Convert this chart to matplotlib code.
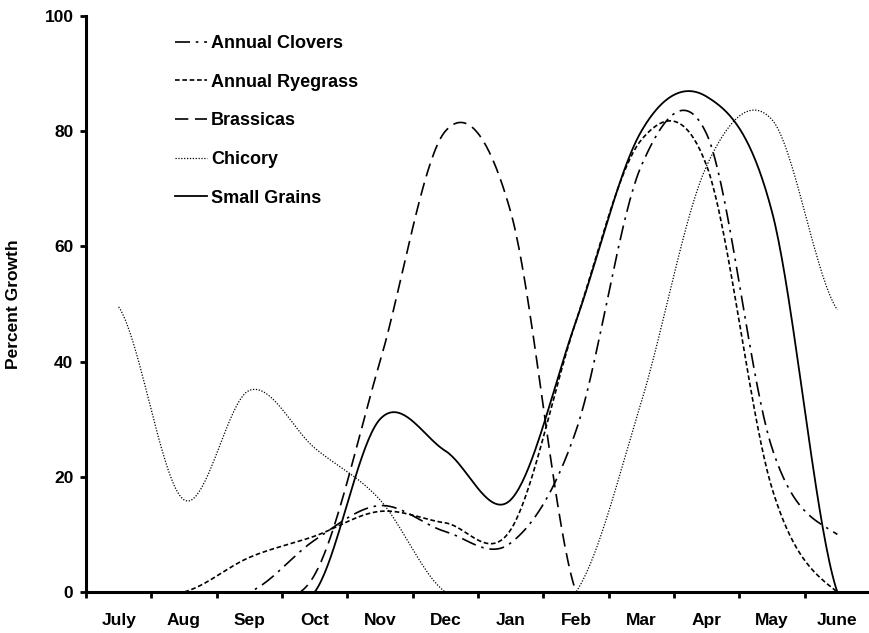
import matplotlib

matplotlib.use("Agg")

import matplotlib.pyplot as plt
import numpy as np

plt.rcParams["font.family"] = ["Liberation Sans", "DejaVu Sans"]
plt.rcParams["font.weight"] = "bold"

months = ["July", "Aug", "Sep", "Oct", "Nov", "Dec", "Jan", "Feb", "Mar", "Apr", "May", "June"]

annual_clovers = [0, 0, 0, 9, 15, 10.5, 8.5, 28, 74, 79.5, 25, 10]
annual_ryegrass = [0, 0, 6, 9.7, 14, 12, 10.8, 47, 78.5, 74, 18, 0]
brassicas = [0, 0, 0, 3, 40, 80, 66, 0, 0, 0, 0, 0]
chicory = [49.5, 16, 35, 25, 16, 0, 0, 0, 33, 74, 82, 49]
small_grains = [0, 0, 0, 0, 30, 24.5, 16, 47, 80, 86, 66, 0]

series = [
    ("Annual Clovers", annual_clovers, (0, (9, 3.5, 1.5, 3.5)), 1.2),
    ("Annual Ryegrass", annual_ryegrass, (0, (2.8, 1.6)), 1.2),
    ("Brassicas", brassicas, (0, (8, 4)), 1.2),
    ("Chicory", chicory, (0, (1, 1.3)), 0.9),
    ("Small Grains", small_grains, "-", 1.3),
]


def smooth(values, n=40):
    """Excel-style smoothed line (Catmull-Rom through the points)."""
    p = np.asarray(values, dtype=float)
    ext = np.concatenate([[p[0]], p, [p[-1]]])
    xs, ys = [], []
    t = np.linspace(0, 1, n, endpoint=False)
    for i in range(len(p) - 1):
        p0, p1, p2, p3 = ext[i], ext[i + 1], ext[i + 2], ext[i + 3]
        m1 = (p2 - p0) / 2
        m2 = (p3 - p1) / 2
        h00 = 2 * t**3 - 3 * t**2 + 1
        h10 = t**3 - 2 * t**2 + t
        h01 = -2 * t**3 + 3 * t**2
        h11 = t**3 - t**2
        xs.append(i + t)
        ys.append(h00 * p1 + h10 * m1 + h01 * p2 + h11 * m2)
    xs.append([len(p) - 1])
    ys.append([p[-1]])
    return np.concatenate(xs), np.concatenate(ys)


fig = plt.figure(figsize=(8.7, 6.33), dpi=100)
ax = fig.add_axes([86 / 870, 1 - 592 / 633, 1 - 86 / 870, (592 - 16) / 633])

for name, vals, ls, lw in series:
    x, y = smooth(vals)
    ax.plot(x, y, color="black", linestyle=ls, linewidth=lw, label=name)

ax.set_ylim(0, 100)
ax.set_xlim(-0.5, 11.34)
ax.set_yticks(range(0, 101, 20))

ax.set_xticks(np.arange(-0.5, 12, 1))
ax.set_xticklabels([])
ax.set_xticks(range(len(months)), minor=True)
ax.set_xticklabels(months, minor=True)
ax.tick_params(axis="x", which="minor", length=0, pad=15, labelsize=12.5)
ax.tick_params(axis="x", which="major", length=4, width=2, direction="out")
ax.tick_params(axis="y", length=4, width=2, direction="out", labelsize=12.5, pad=5)

for s in ("top", "right"):
    ax.spines[s].set_visible(False)
for s in ("left", "bottom"):
    ax.spines[s].set_linewidth(2.2)

ax.set_ylabel("Percent Growth", fontsize=12.5, fontweight="bold")
ax.yaxis.set_label_coords(-0.083, 0.5)

leg = ax.legend(
    loc="upper left",
    bbox_to_anchor=(0.1135, 0.967),
    frameon=False,
    fontsize=13,
    handlelength=1.75,
    handletextpad=0.25,
    labelspacing=1.2,
    borderpad=0,
    borderaxespad=0,
)
for t in leg.get_texts():
    t.set_fontweight("bold")

fig.savefig("out.png", dpi=100)
plt.close(fig)
